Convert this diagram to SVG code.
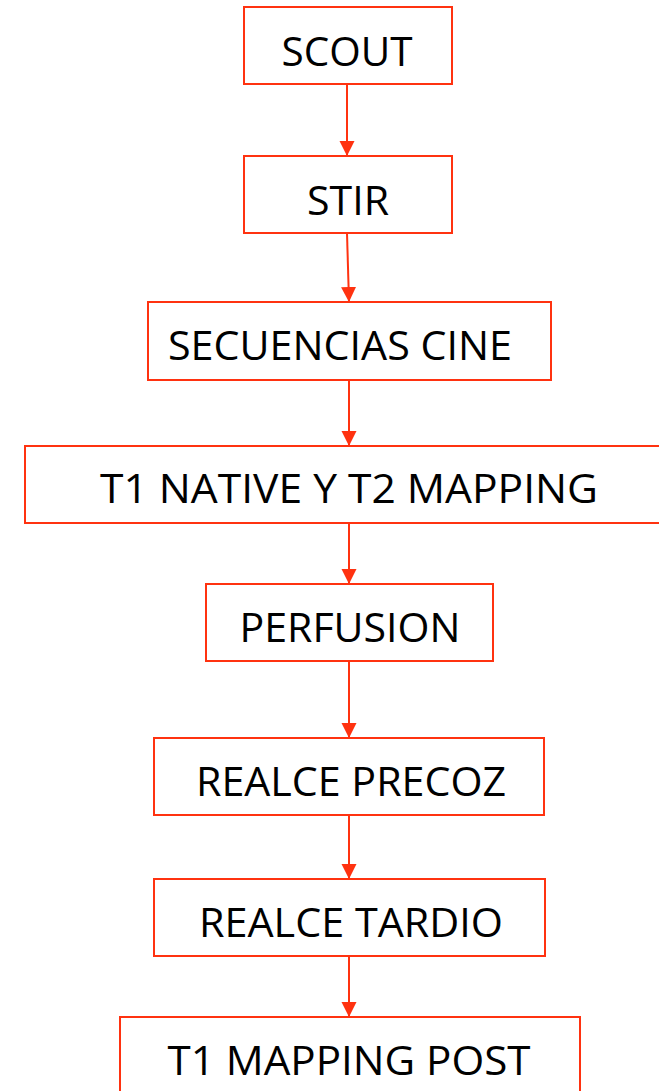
<svg xmlns="http://www.w3.org/2000/svg" width="659" height="1091" viewBox="0 0 659 1091">
<style>
.box{fill:#ffffff;stroke:#ff3210;stroke-width:2}
.lbl{font-family:"Open Sans","Liberation Sans",sans-serif;font-size:41px;fill:#000000;text-anchor:middle}
.edge{stroke:#ff3210;stroke-width:2;fill:none;marker-end:url(#arr)}
</style>
<defs>
<marker id="arr" markerUnits="userSpaceOnUse" markerWidth="16" markerHeight="16" viewBox="0 0 16 16" refX="15" refY="8" orient="auto">
<path d="M0,0.5 L15,8 L0,15.5 Z" fill="#ff3210"/>
</marker>
</defs>
<rect width="659" height="1091" fill="#ffffff"/>
<g id="connectors">
<line class="edge" x1="347" y1="84" x2="347" y2="156"/>
<line class="edge" x1="347" y1="233" x2="349" y2="302"/>
<line class="edge" x1="349" y1="380" x2="349" y2="446"/>
<line class="edge" x1="349" y1="523" x2="349" y2="584"/>
<line class="edge" x1="349" y1="661" x2="349" y2="738"/>
<line class="edge" x1="349" y1="815" x2="349" y2="879"/>
<line class="edge" x1="349" y1="956" x2="349" y2="1017"/>
</g>
<g id="scout">
<rect class="box" x="244" y="7" width="208" height="77"/>
<text class="lbl" x="347" y="66" textLength="131" lengthAdjust="spacingAndGlyphs">SCOUT</text>
</g>
<g id="stir">
<rect class="box" x="244" y="156" width="208" height="77"/>
<text class="lbl" x="348" y="215" textLength="82" lengthAdjust="spacingAndGlyphs">STIR</text>
</g>
<g id="cine">
<rect class="box" x="148" y="302" width="403" height="78"/>
<text class="lbl" x="340" y="360" textLength="344" lengthAdjust="spacingAndGlyphs">SECUENCIAS CINE</text>
</g>
<g id="mapping">
<rect class="box" x="25" y="446" width="640" height="77"/>
<text class="lbl" x="349" y="503" textLength="498" lengthAdjust="spacingAndGlyphs">T1 NATIVE Y T2 MAPPING</text>
</g>
<g id="perfusion">
<rect class="box" x="206" y="584" width="287" height="77"/>
<text class="lbl" x="350" y="642" textLength="221" lengthAdjust="spacingAndGlyphs">PERFUSION</text>
</g>
<g id="precoz">
<rect class="box" x="154" y="738" width="390" height="77"/>
<text class="lbl" x="351" y="796" textLength="310" lengthAdjust="spacingAndGlyphs">REALCE PRECOZ</text>
</g>
<g id="tardio">
<rect class="box" x="154" y="879" width="391" height="77"/>
<text class="lbl" x="351" y="937" textLength="304" lengthAdjust="spacingAndGlyphs">REALCE TARDIO</text>
</g>
<g id="post">
<rect class="box" x="120" y="1017" width="460" height="90"/>
<text class="lbl" x="349" y="1075" textLength="363" lengthAdjust="spacingAndGlyphs">T1 MAPPING POST</text>
</g>
</svg>
